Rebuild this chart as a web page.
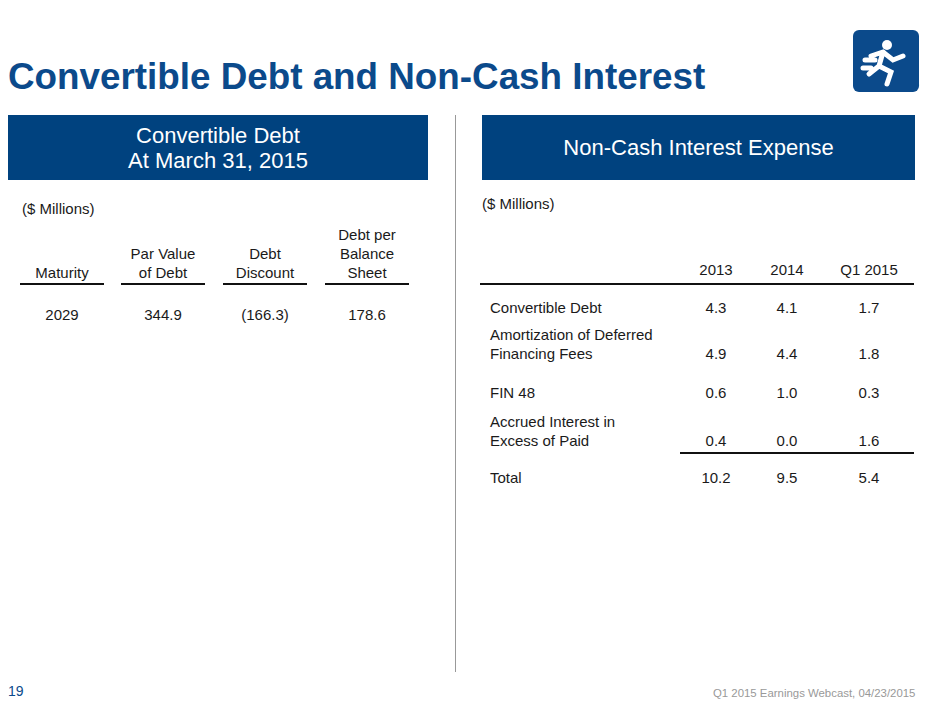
<!DOCTYPE html>
<html><head><meta charset="utf-8">
<script src="https://cdn.jsdelivr.net/npm/chart.js@4.4.0/dist/chart.umd.min.js"></script>
<style>
body{margin:0;width:940px;height:705px;position:relative;background:#fff;font-family:"Liberation Sans",Arial,sans-serif;color:#1a1a1a;overflow:hidden}
.a{position:absolute;white-space:nowrap;font-size:15px;line-height:19px}
.c{transform:translateX(-50%);text-align:center}
.box{position:absolute;background:#00427f;color:#fff;text-align:center;font-size:22px;line-height:25px;display:flex;align-items:center;justify-content:center}
.ln{position:absolute;height:1.5px;background:#111}
</style></head><body>
<div class="a" style="left:8px;top:55px;font-size:36.8px;line-height:44px;font-weight:bold;color:#0b4a8b">Convertible Debt and Non-Cash Interest</div>
<svg style="position:absolute;left:853px;top:30px" width="70" height="66" viewBox="0 0 70 66">
<rect x="0" y="0" width="66" height="62" rx="6" fill="#0b4a8b"/>
<circle cx="34" cy="15" r="5" fill="#fff"/>
<path d="M18 26 L30 22 L40 30 L50 26 M30 22 L26 36 L16 44 M26 36 L38 42 L34 54 M12 30 L22 30 M10 38 L18 38" stroke="#fff" stroke-width="5" fill="none" stroke-linecap="round"/>
<text x="60" y="58" font-size="8" fill="#0b4a8b">®</text>
</svg>
<div class="box" style="left:8px;top:115px;width:420px;height:65px">Convertible Debt<br>At March 31, 2015</div>
<div class="box" style="left:482px;top:115px;width:433px;height:65px">Non-Cash Interest Expense</div>
<div style="position:absolute;left:455px;top:115px;width:1px;height:557px;background:#999"></div>
<div id="L"></div><div id="R"></div>
<div class="a" style="left:8px;top:682px;font-size:14px;color:#0b4a8b">19</div>
<div class="a" style="left:713px;top:684px;font-size:11.4px;color:#999">Q1 2015 Earnings Webcast, 04/23/2015</div>
<canvas id="cv" style="display:none"></canvas>
<script>
const leftHeaders=["Maturity","Par Value<br>of Debt","Debt<br>Discount","Debt per<br>Balance<br>Sheet"];
const leftValues=["2029","344.9","(166.3)","178.6"];
const rightYears=["2013","2014","Q1 2015"];
const rightLabels=["Convertible Debt","Amortization of Deferred<br>Financing Fees","FIN 48","Accrued Interest in<br>Excess of Paid","Total"];
const v2013=["4.3","4.9","0.6","0.4","10.2"];
const v2014=["4.1","4.4","1.0","0.0","9.5"];
const vQ1=["1.7","1.8","0.3","1.6","5.4"];
let h='<div class="a" style="left:22px;top:199px">($ Millions)</div>';
const lc=[62,163,265,367];
leftHeaders.forEach((t,i)=>{const n=t.split('<br>').length;
h+=`<div class="a c" style="left:${lc[i]}px;top:${282-n*19}px">${t}</div>`;
h+=`<div class="ln" style="left:${lc[i]-42}px;top:283px;width:84px"></div>`;
h+=`<div class="a c" style="left:${lc[i]}px;top:305px">${leftValues[i]}</div>`;});
document.getElementById('L').innerHTML=h;
let r='<div class="a" style="left:482px;top:194px">($ Millions)</div>';
const rc=[716,787,869];
rightYears.forEach((y,i)=>r+=`<div class="a c" style="left:${rc[i]}px;top:260px">${y}</div>`);
r+='<div class="ln" style="left:480px;top:283px;width:434px"></div>';
r+='<div class="ln" style="left:680px;top:452px;width:234px"></div>';
const rowY=[298,344,383,431,468];
rightLabels.forEach((t,i)=>{const n=t.split('<br>').length;
r+=`<div class="a" style="left:490px;top:${rowY[i]-(n-1)*19}px">${t}</div>`;
[v2013,v2014,vQ1].forEach((a,j)=>r+=`<div class="a c" style="left:${rc[j]}px;top:${rowY[i]}px">${a[i]}</div>`);});
document.getElementById('R').innerHTML=r;
</script></body></html>
